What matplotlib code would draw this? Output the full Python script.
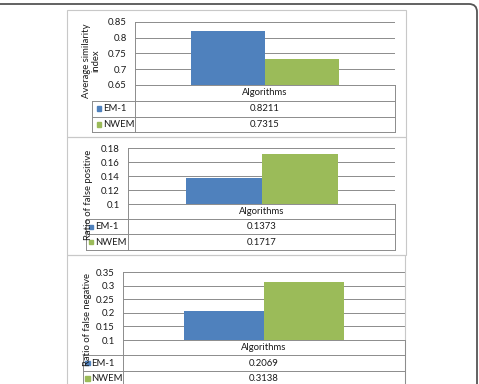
import matplotlib
matplotlib.use("Agg")
import matplotlib.pyplot as plt
from matplotlib.patches import FancyBboxPatch, Rectangle

# ---- data ----
category = "Algorithms"
series_names = ["EM-1", "NWEM"]
series_colors = ["#4F81BD", "#9BBB59"]

similarity = [0.8211, 0.7315]
false_positive = [0.1373, 0.1717]
false_negative = [0.2069, 0.3138]

sim_ticks = [0.65, 0.7, 0.75, 0.8, 0.85]
fp_ticks = [0.1, 0.12, 0.14, 0.16, 0.18]
fn_ticks = [0.1, 0.15, 0.2, 0.25, 0.3, 0.35]

W, H = 479, 384
GRID = "#8c8c8c"
BOX = "#c8c8c8"
TXT = "#1a1a1a"
FS = 6.8

plt.rcParams["font.family"] = ["Lato", "DejaVu Sans"]

fig = plt.figure(figsize=(W / 100, H / 100), dpi=100)
fig.patch.set_facecolor("white")

# overlay axes in pixel coordinates for frames and the data tables
ov = fig.add_axes([0, 0, 1, 1], zorder=5)
ov.set_xlim(0, W)
ov.set_ylim(H, 0)
ov.axis("off")
ov.patch.set_alpha(0)


def px_axes(left, top, right, bottom):
    return fig.add_axes([left / W, 1 - bottom / H, (right - left) / W, (bottom - top) / H])


def draw_panel(values, ticks, ylabel, plot, tab_left, rows, box, ylab_xy, key_dx, text_dx):
    l, t, r, b = plot
    # chart area border
    bx0, by0, bx1, by1 = box
    ov.add_patch(Rectangle((bx0, by0), bx1 - bx0, by1 - by0, fill=False,
                           edgecolor=BOX, linewidth=0.8, zorder=1))

    ax = px_axes(l, t, r, b)
    ax.set_zorder(2)
    width = 0.285
    xs = [-width / 2, width / 2]
    for x, v, c in zip(xs, values, series_colors):
        ax.bar(x, v, width=width, color=c, edgecolor="none", zorder=3)
    ax.set_xlim(-0.5, 0.5)
    ax.set_ylim(ticks[0], ticks[-1])
    ax.set_yticks(ticks)
    ax.set_yticklabels([f"{tk:g}" for tk in ticks], fontsize=FS, color=TXT)
    ax.set_xticks([])
    ax.tick_params(axis="y", length=0, pad=6)
    ax.yaxis.grid(True, color=GRID, linewidth=0.7, zorder=0)
    ax.set_axisbelow(True)
    for s in ["top", "right"]:
        ax.spines[s].set_visible(False)
    ax.spines["left"].set_color(GRID)
    ax.spines["bottom"].set_color(GRID)
    ax.spines["left"].set_linewidth(0.7)
    ax.spines["bottom"].set_linewidth(0.7)

    # data table
    r1, r2, r3 = rows
    lw = 0.7
    ov.plot([l, l], [b, r3], color=GRID, lw=lw)
    ov.plot([r, r], [b, r3], color=GRID, lw=lw)
    ov.plot([tab_left, tab_left], [r1, r3], color=GRID, lw=lw)
    for yy in rows:
        ov.plot([tab_left, r], [yy, yy], color=GRID, lw=lw)
    cx = (l + r) / 2
    ov.text(cx, (b + r1) / 2, category, ha="center", va="center", fontsize=FS, color=TXT)
    row_tops = [r1, r2]
    row_bots = [r2, r3]
    for name, v, c, y0, y1 in zip(series_names, values, series_colors, row_tops, row_bots):
        yc = (y0 + y1) / 2
        ov.add_patch(Rectangle((tab_left + key_dx, yc - 2.2), 4.5, 4.5, color=c, zorder=3))
        ov.text(tab_left + text_dx, yc, name, ha="left", va="center", fontsize=FS, color=TXT)
        ov.text(cx, yc, f"{v:.4f}", ha="center", va="center", fontsize=FS, color=TXT)

    ov.text(ylab_xy[0], ylab_xy[1], ylabel, rotation=90, ha="center", va="center",
            multialignment="center", fontsize=FS, color=TXT, linespacing=1.0, zorder=6)


draw_panel(similarity, sim_ticks, "Average similarity\nindex",
           (135, 21.7, 395, 85), 92.3, (100.7, 116.5, 132),
           (67.5, 10, 406, 137), (91.5, 61), 4.5, 10.5)
draw_panel(false_positive, fp_ticks, "Ratio of false positive",
           (128.3, 148.3, 395, 204), 85.7, (219.3, 234.3, 250),
           (67.5, 137, 406, 255), (88.5, 195), 3, 9)
draw_panel(false_negative, fn_ticks, "Ratio of false negative",
           (123.3, 272.3, 405, 340), 83.3, (355.3, 370.7, 386),
           (67.5, 255, 405, 400), (87.5, 320), 2, 7.5)

# outer figure frame with rounded corner
ov.add_patch(FancyBboxPatch((-30, 4), 507, 420, boxstyle="round,pad=0,rounding_size=8",
                            fill=False, edgecolor="#555555", linewidth=1.3, zorder=7))

fig.savefig("out.png", dpi=100)
